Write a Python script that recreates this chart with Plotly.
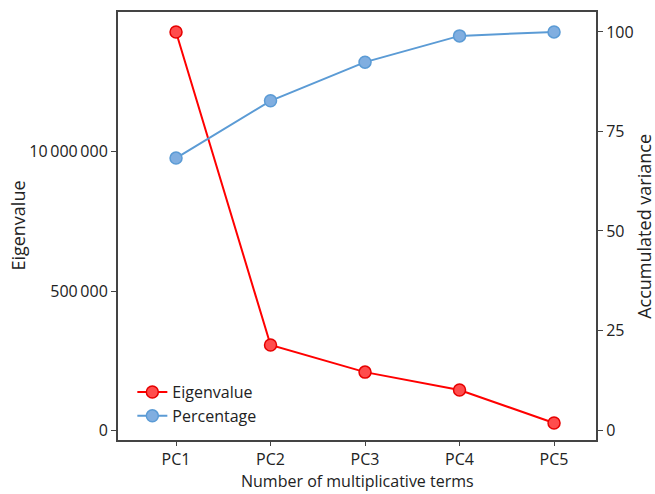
import plotly.graph_objects as go

categories = ["PC1", "PC2", "PC3", "PC4", "PC5"]
eigenvalue = [1429000, 307000, 210000, 146000, 27600]
percentage = [68.3, 82.7, 92.4, 99.0, 100.0]
left_tickvals = [0, 500000, 1000000]
left_ticktext = ["0", "500\u2009000", "10\u2009000\u2009000"]
right_tickvals = [0, 25, 50, 75, 100]

font_family = "Open Sans, Noto Sans, sans-serif"
axis_color = "#444444"
text_color = "#222222"

fig = go.Figure()
fig.add_trace(go.Scatter(
    x=categories, y=eigenvalue, name="Eigenvalue", mode="lines+markers",
    line=dict(color="#ff0000", width=2),
    marker=dict(size=12, color="#ff4d4d", line=dict(color="#e60000", width=1.5)),
    yaxis="y"))
fig.add_trace(go.Scatter(
    x=categories, y=percentage, name="Percentage", mode="lines+markers",
    line=dict(color="#5b9bd5", width=2),
    marker=dict(size=12, color="#80aee0", line=dict(color="#5b9bd5", width=1.5)),
    yaxis="y2"))

fig.update_layout(
    width=655, height=494,
    margin=dict(l=118, r=59, t=12, b=54, autoexpand=False),
    paper_bgcolor="white", plot_bgcolor="white",
    font=dict(family=font_family, size=16, color=text_color),
    showlegend=True,
    legend=dict(x=0.03, y=0.016, xanchor="left", yanchor="bottom",
                bgcolor="rgba(0,0,0,0)", font=dict(size=16),
                tracegroupgap=0),
    xaxis=dict(
        type="category", range=[-0.614, 4.444], automargin=False,
        showline=True, linecolor=axis_color, linewidth=2, mirror=True,
        ticks="outside", ticklen=4, tickcolor=axis_color,
        tickfont=dict(size=16),
        showgrid=False, zeroline=False,
    ),
    yaxis=dict(
        range=[-33300, 1500700], automargin=False,
        tickvals=left_tickvals, ticktext=left_ticktext,
        showline=True, linecolor=axis_color, linewidth=2,
        ticks="outside", ticklen=5, tickcolor=axis_color,
        showgrid=False, zeroline=False,
    ),
    yaxis2=dict(
        range=[-2.51, 105.0], overlaying="y", side="right", automargin=False,
        tickvals=right_tickvals,
        showline=True, linecolor=axis_color, linewidth=2,
        ticks="outside", ticklen=5, tickcolor=axis_color,
        showgrid=False, zeroline=False,
    ),
    annotations=[
        dict(text="Number of multiplicative terms", xref="paper", yref="paper",
             x=0.5, y=-0.1262, xanchor="center", yanchor="bottom", showarrow=False,
             font=dict(size=16, color=text_color)),
        dict(text="Eigenvalue", xref="paper", yref="paper",
             x=-0.21, y=0.5, xanchor="center", yanchor="middle", textangle=-90,
             showarrow=False, font=dict(size=18, color=text_color)),
        dict(text="Accumulated variance", xref="paper", yref="paper",
             x=1.1, y=0.5, xanchor="center", yanchor="middle", textangle=-90,
             showarrow=False, font=dict(size=18, color=text_color)),
    ],
)

fig.write_html("out.html", config={"displayModeBar": False},
               post_script="document.body.style.margin='0';")
